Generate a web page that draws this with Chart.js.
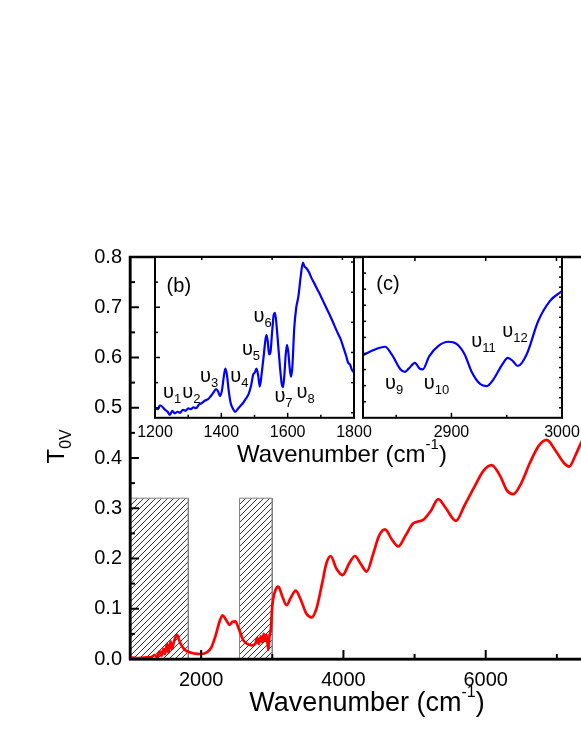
<!DOCTYPE html>
<html><head><meta charset="utf-8">
<script src="https://cdn.jsdelivr.net/npm/chart.js@4.4.1/dist/chart.umd.min.js"></script>
<style>
html,body{margin:0;padding:0;background:#fff;width:581px;height:752px;overflow:hidden;position:relative;}
canvas{position:absolute;left:0;top:0;}
</style></head>
<body>
<canvas id="mainChart" width="680" height="752"></canvas>
<canvas id="insetB" width="680" height="752"></canvas>
<canvas id="insetC" width="680" height="752"></canvas>
<script>
// ---------- data ----------
const mainWavenumber = [1000,1100,1200,1300,1350,1380,1420,1440,1470,1490,1520,1540,1570,1590,1610,1630,1660,1690,1720,1760,1810,1900,2000,2080,2140,2200,2260,2300,2350,2400,2440,2480,2530,2590,2650,2710,2760,2790,2810,2840,2860,2880,2900,2920,2944,2960,2980,3000,3040,3085,3140,3200,3260,3330,3400,3480,3553,3620,3700,3760,3821,3900,3989,4080,4162,4240,4327,4420,4500,4584,4680,4771,4870,4982,5122,5230,5333,5440,5582,5700,5850,5970,6083,6200,6300,6387,6500,6620,6750,6856,6980,7100,7175,7260,7340,7420,7520,7650,7800,8000];
const mainT0V = [0.003,0.002,0.003,0.004,0.008,0.004,0.015,0.006,0.02,0.01,0.03,0.012,0.035,0.02,0.03,0.04,0.048,0.038,0.028,0.02,0.015,0.011,0.01,0.013,0.022,0.045,0.075,0.087,0.078,0.068,0.074,0.075,0.06,0.038,0.03,0.027,0.03,0.042,0.03,0.045,0.033,0.05,0.036,0.048,0.018,0.045,0.06,0.105,0.135,0.144,0.125,0.107,0.122,0.136,0.118,0.09,0.083,0.1,0.15,0.19,0.205,0.18,0.167,0.19,0.205,0.19,0.174,0.21,0.245,0.258,0.238,0.224,0.245,0.27,0.277,0.295,0.318,0.3,0.275,0.305,0.345,0.375,0.386,0.365,0.335,0.328,0.35,0.39,0.425,0.436,0.415,0.39,0.383,0.405,0.43,0.45,0.46,0.44,0.42,0.43];

const insetBWavenumber = [1200,1208,1215,1222,1230,1238,1245,1252,1260,1268,1276,1284,1292,1300,1308,1316,1324,1332,1340,1350,1360,1368,1376,1384,1390,1396,1402,1407,1412,1417,1422,1428,1435,1442,1450,1458,1466,1474,1482,1490,1496,1501,1506,1511,1516,1522,1528,1532,1536,1540,1544,1548,1553,1558,1562,1567,1572,1577,1582,1586,1590,1594,1598,1602,1606,1610,1614,1620,1626,1632,1640,1646,1650,1656,1664,1672,1680,1690,1700,1710,1720,1730,1740,1750,1760,1768,1776,1782,1788,1794,1800];
const insetBT0V = [0.500,0.497,0.505,0.502,0.496,0.492,0.486,0.494,0.489,0.492,0.490,0.496,0.494,0.499,0.497,0.501,0.499,0.506,0.509,0.514,0.517,0.523,0.530,0.537,0.533,0.523,0.535,0.560,0.578,0.565,0.535,0.510,0.498,0.492,0.498,0.504,0.510,0.518,0.527,0.545,0.566,0.570,0.578,0.565,0.542,0.570,0.605,0.630,0.645,0.632,0.606,0.610,0.650,0.685,0.689,0.660,0.620,0.580,0.548,0.541,0.565,0.605,0.625,0.610,0.580,0.562,0.580,0.660,0.700,0.720,0.765,0.789,0.782,0.778,0.770,0.758,0.748,0.735,0.722,0.708,0.694,0.680,0.665,0.650,0.636,0.620,0.604,0.590,0.586,0.575,0.570];

const insetCWavenumber = [2820,2829,2840,2846,2854,2858,2861.5,2867,2871,2874,2880,2888,2897,2904.6,2912,2918,2926,2932,2938,2946,2951,2955.6,2960,2968,2978.5,2989,3000];
const insetCSignal = [0.39,0.42,0.442,0.394,0.301,0.286,0.307,0.342,0.307,0.301,0.384,0.446,0.473,0.46,0.394,0.29,0.21,0.197,0.239,0.332,0.373,0.353,0.322,0.394,0.602,0.726,0.788];

const hatchStart = [1000, 2540];
const hatchEnd = [1820, 3000];
const hatchTop = [0.32, 0.32];

const mainXTickLabels = [2000, 4000, 6000, 8000];
const mainXMinorTicks = [3000, 5000, 7000];
const mainYTickLabels = [0, 0.1, 0.2, 0.3, 0.4, 0.5, 0.6, 0.7, 0.8];
const mainYMinorTicks = [0.05, 0.15, 0.25, 0.35, 0.45, 0.55, 0.65, 0.75];
const insetBXTickLabels = [1200, 1400, 1600, 1800];
const insetBXMinorTicks = [1300, 1500, 1700];
const insetBTopTicks = [1341, 1553, 1765];
const insetBYMajorTicks = [0.5, 0.6, 0.7];
const insetBYMinorTicks = [0.55, 0.65, 0.75];
const insetBYRightTicks = [0.49, 0.55, 0.61, 0.67, 0.73, 0.79];
const insetCXTickLabels = [2900, 3000];
const insetCXMinorTicks = [2850, 2950];
const insetCTopTicks = [2867, 2931, 2995];
const insetCYLeftTicks = [0.1,0.2,0.3,0.4,0.5,0.6,0.7,0.8,0.9];
const insetCYRightTicks = [0.0625,0.125,0.1875,0.25,0.3125,0.375,0.4375,0.5,0.5625,0.625,0.6875,0.75,0.8125,0.875,0.9375];

// peak annotations (subscript, wavenumber, value)
const insetBPeakSub = ['1','2','3','4','5','6','7','8'];
const insetBPeakX = [1224,1282,1336,1427,1462,1497,1560,1627];
const insetBPeakY = [0.519,0.519,0.551,0.551,0.605,0.671,0.511,0.519];
const insetCPeakSub = ['9','10','11','12'];
const insetCPeakX = [2840,2875,2918,2946];
const insetCPeakY = [0.18,0.177,0.44,0.50];

// ---------- helpers ----------
const FONT = "'Liberation Sans', Arial, Helvetica, sans-serif";
function richText(ctx, parts, x, y, align) {
  let w = 0;
  parts.forEach(p => { ctx.font = p[1] + 'px ' + FONT; w += ctx.measureText(p[0]).width; });
  let cx = align === 'center' ? x - w / 2 : x;
  parts.forEach(p => { ctx.font = p[1] + 'px ' + FONT; ctx.fillText(p[0], cx, y + p[2]); cx += ctx.measureText(p[0]).width; });
}
const framePlugin = {
  id: 'frame',
  beforeDraw(chart, args, o) {
    if (!o.fillWhite) return;
    const a = chart.chartArea, ctx = chart.ctx;
    ctx.save(); ctx.fillStyle = '#fff'; ctx.fillRect(a.left, a.top, a.width, a.height); ctx.restore();
  },
  afterDraw(chart, args, o) {
    const {ctx, chartArea: a, scales} = chart;
    const xs = scales.x, ys = scales.y;
    ctx.save();
    ctx.strokeStyle = '#000';
    ctx.lineWidth = o.tickWidth || 1.5;
    const seg = (x1, y1, x2, y2) => { ctx.beginPath(); ctx.moveTo(x1, y1); ctx.lineTo(x2, y2); ctx.stroke(); };
    (o.bottom || []).forEach(([vals, len]) => vals.forEach(v => { const p = xs.getPixelForValue(v); seg(p, a.bottom, p, a.bottom - len); }));
    (o.top || []).forEach(([vals, len]) => vals.forEach(v => { const p = xs.getPixelForValue(v); seg(p, a.top, p, a.top + len); }));
    (o.left || []).forEach(([vals, len]) => vals.forEach(v => { const p = ys.getPixelForValue(v); seg(a.left, p, a.left + len, p); }));
    (o.right || []).forEach(([vals, len]) => vals.forEach(v => { const p = ys.getPixelForValue(v); seg(a.right, p, a.right - len, p); }));
    ctx.lineWidth = o.frameWidth || 2;
    ctx.strokeRect(a.left, a.top, a.width, a.height);
    ctx.fillStyle = '#000';
    ctx.textAlign = 'left';
    ctx.textBaseline = 'alphabetic';
    if (o.draw) o.draw(ctx, chart);
    ctx.restore();
  }
};
function peakLabels(ctx, chart, subs, xs, ys) {
  subs.forEach((s, i) => {
    const px = chart.scales.x.getPixelForValue(xs[i]);
    const py = chart.scales.y.getPixelForValue(ys[i]);
    ctx.font = '20px ' + FONT;
    ctx.fillText('υ', px, py);
    const w = ctx.measureText('υ').width;
    ctx.font = '13px ' + FONT;
    ctx.fillText(s, px + w, py + 5);
  });
}
const tickFont = (size) => ({ family: FONT, size: size });
const pts = (xa, ya) => xa.map((x, i) => ({ x: x, y: ya[i] }));

// ---------- main chart ----------
const mainCanvas = document.getElementById('mainChart');
const mctx = mainCanvas.getContext('2d');
const tile = document.createElement('canvas');
tile.width = 6; tile.height = 6;
const tg = tile.getContext('2d');
tg.strokeStyle = '#000'; tg.lineWidth = 0.8;
tg.beginPath(); tg.moveTo(0, 6); tg.lineTo(6, 0); tg.moveTo(-1, 1); tg.lineTo(1, -1); tg.moveTo(5, 7); tg.lineTo(7, 5); tg.stroke();
const hatchPattern = mctx.createPattern(tile, 'repeat');

const hatchSets = hatchStart.map((s, i) => ({
  data: [{x: s, y: 0}, {x: s, y: hatchTop[i]}, {x: hatchEnd[i], y: hatchTop[i]}, {x: hatchEnd[i], y: 0}],
  borderColor: '#808080', borderWidth: 1, backgroundColor: hatchPattern, fill: 'origin',
  pointRadius: 0, tension: 0, order: 2
}));

new Chart(mctx, {
  type: 'line',
  data: { datasets: [
    { data: pts(mainWavenumber, mainT0V), borderColor: '#ff0000', borderWidth: 2.7, pointRadius: 0,
      cubicInterpolationMode: 'monotone', fill: false, order: 0 },
    ...hatchSets
  ]},
  options: {
    responsive: false, animation: false, devicePixelRatio: 1,
    layout: { padding: { left: 0, right: 52, top: 257, bottom: 0 } },
    plugins: { legend: { display: false }, tooltip: { enabled: false },
      frame: {
        frameWidth: 2.5, tickWidth: 2,
        bottom: [[mainXTickLabels, 9], [mainXMinorTicks, 5]],
        top: [[mainXTickLabels, 9], [mainXMinorTicks, 5]],
        left: [[mainYTickLabels, 9], [mainYMinorTicks, 5]],
        right: [[mainYTickLabels, 9], [mainYMinorTicks, 5]],
        draw(ctx) {
          richText(ctx, [['Wavenumber (cm', 27, 0], ['-1', 16, -14], [')', 27, 0]], 367, 711, 'center');
          ctx.save();
          ctx.translate(64, 463.5); ctx.rotate(-Math.PI / 2);
          ctx.font = '24px ' + FONT; ctx.fillText('T', 0, 0);
          const tw = ctx.measureText('T').width;
          ctx.font = '16px ' + FONT; ctx.fillText('0V', tw, 7);
          ctx.restore();
        }
      }
    },
    scales: {
      x: { type: 'linear', min: 1000, max: 8000,
        afterBuildTicks: s => { s.ticks = mainXTickLabels.map(v => ({ value: v })); },
        afterFit: s => { s.height = 752 - 659; },
        grid: { display: false, drawTicks: false },
        border: { display: true, color: '#000', width: 2.5 },
        ticks: { font: tickFont(20), color: '#000', padding: 9, maxRotation: 0, autoSkip: false, callback: v => String(v) } },
      y: { type: 'linear', min: 0, max: 0.8,
        afterBuildTicks: s => { s.ticks = mainYTickLabels.map(v => ({ value: v })); },
        afterFit: s => { s.width = 130; },
        grid: { display: false, drawTicks: false },
        border: { display: true, color: '#000', width: 2.5 },
        ticks: { font: tickFont(20), color: '#000', padding: 8, autoSkip: false, callback: v => v.toFixed(1) } }
    }
  },
  plugins: [framePlugin]
});

// ---------- inset (b) ----------
new Chart(document.getElementById('insetB').getContext('2d'), {
  type: 'line',
  data: { datasets: [
    { data: pts(insetBWavenumber, insetBT0V), borderColor: '#0000ff', borderWidth: 2.2, pointRadius: 0,
      cubicInterpolationMode: 'monotone', fill: false }
  ]},
  options: {
    responsive: false, animation: false, devicePixelRatio: 1,
    layout: { padding: { left: 155, right: 326, top: 257, bottom: 294.2 } },
    plugins: { legend: { display: false }, tooltip: { enabled: false },
      frame: {
        fillWhite: true, frameWidth: 2, tickWidth: 1.5,
        bottom: [[insetBXTickLabels, 5], [insetBXMinorTicks, 3]],
        top: [[insetBTopTicks, 3]],
        left: [[insetBYMajorTicks, 5], [insetBYMinorTicks, 3]],
        right: [[insetBYRightTicks, 3]],
        draw(ctx, chart) {
          ctx.font = '20px ' + FONT;
          ctx.fillText('(b)', chart.scales.x.getPixelForValue(1235), chart.scales.y.getPixelForValue(0.73));
          peakLabels(ctx, chart, insetBPeakSub, insetBPeakX, insetBPeakY);
          richText(ctx, [['Wavenumber (cm', 24, 0], ['-1', 15, -13], [')', 24, 0]], 342, 462, 'center');
        }
      }
    },
    scales: {
      x: { type: 'linear', min: 1200, max: 1800,
        afterBuildTicks: s => { s.ticks = insetBXTickLabels.map(v => ({ value: v })); },
        afterFit: s => { s.height = 40; },
        grid: { display: false, drawTicks: false },
        border: { display: false },
        ticks: { font: tickFont(16), color: '#000', padding: 5, maxRotation: 0, autoSkip: false, callback: v => String(v) } },
      y: { type: 'linear', min: 0.48, max: 0.8, display: false }
    }
  },
  plugins: [framePlugin]
});

// ---------- inset (c) ----------
new Chart(document.getElementById('insetC').getContext('2d'), {
  type: 'line',
  data: { datasets: [
    { data: pts(insetCWavenumber, insetCSignal), borderColor: '#0000ff', borderWidth: 2.2, pointRadius: 0,
      cubicInterpolationMode: 'monotone', fill: false }
  ]},
  options: {
    responsive: false, animation: false, devicePixelRatio: 1,
    layout: { padding: { left: 363, right: 118, top: 257, bottom: 294.2 } },
    plugins: { legend: { display: false }, tooltip: { enabled: false },
      frame: {
        fillWhite: true, frameWidth: 2, tickWidth: 1.5,
        bottom: [[insetCXTickLabels, 5], [insetCXMinorTicks, 3]],
        top: [[insetCTopTicks, 4]],
        left: [[insetCYLeftTicks, 3]],
        right: [[insetCYRightTicks, 3]],
        draw(ctx, chart) {
          ctx.font = '20px ' + FONT;
          ctx.fillText('(c)', chart.scales.x.getPixelForValue(2832), chart.scales.y.getPixelForValue(0.794));
          peakLabels(ctx, chart, insetCPeakSub, insetCPeakX, insetCPeakY);
        }
      }
    },
    scales: {
      x: { type: 'linear', min: 2820, max: 3000,
        afterBuildTicks: s => { s.ticks = insetCXTickLabels.map(v => ({ value: v })); },
        afterFit: s => { s.height = 40; },
        grid: { display: false, drawTicks: false },
        border: { display: false },
        ticks: { font: tickFont(16), color: '#000', padding: 5, maxRotation: 0, autoSkip: false, callback: v => String(v) } },
      y: { type: 'linear', min: 0, max: 1, display: false }
    }
  },
  plugins: [framePlugin]
});
</script>
</body></html>
